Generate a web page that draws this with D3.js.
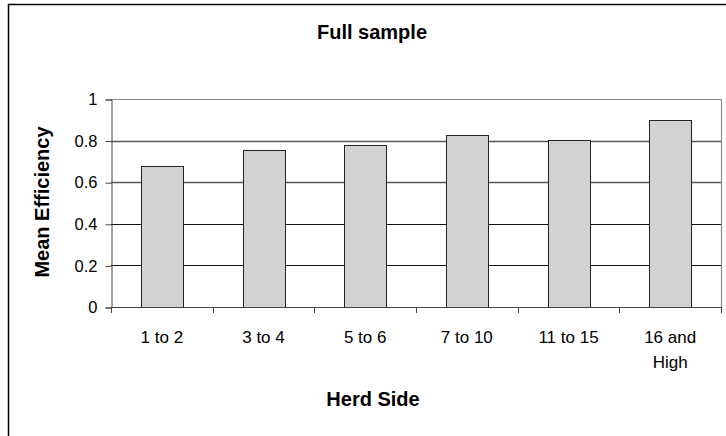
<!DOCTYPE html>
<html>
<head>
<meta charset="utf-8">
<script src="https://cdn.jsdelivr.net/npm/d3@7"></script>
<style>
  html, body { margin: 0; padding: 0; background: #fff; }
  svg { display: block; }
  text { font-family: Arial, "Liberation Sans", sans-serif; fill: #000; }
</style>
</head>
<body>
<svg id="chart" width="726" height="436"></svg>
<script>
// Mean efficiency by herd size class
const categories = ["1 to 2", "3 to 4", "5 to 6", "7 to 10", "11 to 15", "16 and High"];
const meanEfficiency = [0.68, 0.755, 0.78, 0.825, 0.805, 0.90];
const yTicks = [0, 0.2, 0.4, 0.6, 0.8, 1];

const titleText = "Full sample";
const xTitle = "Herd Side";
const yTitle = "Mean Efficiency";

const svg = d3.select("#chart");
const W = 726, H = 436;
const plot = { left: 111, right: 721, top: 99, bottom: 307 };

// outer chart frame (runs off the right and bottom edges)
svg.append("rect")
  .attr("x", 8.5).attr("y", 4.5)
  .attr("width", W + 20).attr("height", H + 20)
  .attr("fill", "#fff").attr("stroke", "#000").attr("stroke-width", 1.5);

const x = d3.scaleBand().domain(categories).range([plot.left, plot.right]).padding(0);
const y = d3.scaleLinear().domain([0, 1]).range([plot.bottom, plot.top]);

// horizontal gridlines
svg.append("g").selectAll("line")
  .data(yTicks.filter(d => d > 0 && d < 1))
  .join("line")
  .attr("x1", plot.left).attr("x2", plot.right)
  .attr("y1", d => Math.round(y(d)) + 0.5).attr("y2", d => Math.round(y(d)) + 0.5)
  .attr("stroke", d => d >= 0.6 ? "#555" : "#111")
  .attr("stroke-width", d => d >= 0.6 ? 1.4 : 1);

// plot area top and right border
svg.append("path")
  .attr("d", `M${plot.left},${y(1) + 0.5}H${plot.right + 0.5}V${plot.bottom}`)
  .attr("fill", "none").attr("stroke", "#8a8a8a").attr("stroke-width", 1.2);

// bars
const barFrac = 0.41;
svg.append("g").selectAll("rect")
  .data(categories.map((c, i) => ({ c, v: meanEfficiency[i] })))
  .join("rect")
  .attr("x", d => Math.round(x(d.c) + x.bandwidth() * (1 - barFrac) / 2) + 0.5)
  .attr("y", d => Math.round(y(d.v)) + 0.5)
  .attr("width", Math.round(x.bandwidth() * barFrac))
  .attr("height", d => Math.round(y(0)) - Math.round(y(d.v)))
  .attr("fill", "#d1d2d4")
  .attr("stroke", "#222")
  .attr("stroke-width", 1);

// y axis
const yAxis = d3.axisLeft(y).tickValues(yTicks).tickSize(6).tickPadding(8)
  .tickFormat(d => d === 0 || d === 1 ? String(d) : d3.format(".1f")(d));
const gy = svg.append("g").attr("transform", `translate(${plot.left + 0.5},0.5)`).call(yAxis);
gy.select(".domain").attr("stroke", "#444");
gy.selectAll(".tick line").attr("stroke", "#444");
gy.selectAll(".tick text").attr("font-size", 16.5).attr("fill", "#000")
  .attr("font-family", "Arial, 'Liberation Sans', sans-serif");

// x axis: ticks at category boundaries
const gx = svg.append("g");
gx.append("line")
  .attr("x1", plot.left).attr("x2", plot.right + 0.5)
  .attr("y1", plot.bottom + 0.5).attr("y2", plot.bottom + 0.5)
  .attr("stroke", "#444");
const bounds = categories.map(c => x(c)).concat([plot.right]);
gx.selectAll("line.tk").data(bounds).join("line").attr("class", "tk")
  .attr("x1", d => Math.round(d) + 0.5).attr("x2", d => Math.round(d) + 0.5)
  .attr("y1", plot.bottom).attr("y2", plot.bottom + 6)
  .attr("stroke", "#444");

// category labels, wrapped onto two lines where needed
const labelLines = c => c === "16 and High" ? ["16 and", "High"] : [c];
gx.selectAll("text.cat").data(categories).join("text").attr("class", "cat")
  .attr("x", d => x(d) + x.bandwidth() / 2)
  .attr("y", 343)
  .attr("text-anchor", "middle")
  .attr("font-size", 17)
  .each(function(d) {
    const t = d3.select(this);
    labelLines(d).forEach((ln, i) => {
      t.append("tspan").attr("x", x(d) + x.bandwidth() / 2).attr("dy", i === 0 ? 0 : 25).text(ln);
    });
  });

// titles
svg.append("text").attr("x", 372).attr("y", 38.5)
  .attr("text-anchor", "middle").attr("font-size", 20).attr("font-weight", "bold")
  .attr("fill", "#222").text(titleText);

svg.append("text").attr("x", 373).attr("y", 406)
  .attr("text-anchor", "middle").attr("font-size", 20).attr("font-weight", "bold")
  .attr("fill", "#222").text(xTitle);

svg.append("text").attr("transform", "translate(49,202) rotate(-90)")
  .attr("text-anchor", "middle").attr("font-size", 20).attr("font-weight", "bold")
  .attr("fill", "#222").text(yTitle);
</script>
</body>
</html>
